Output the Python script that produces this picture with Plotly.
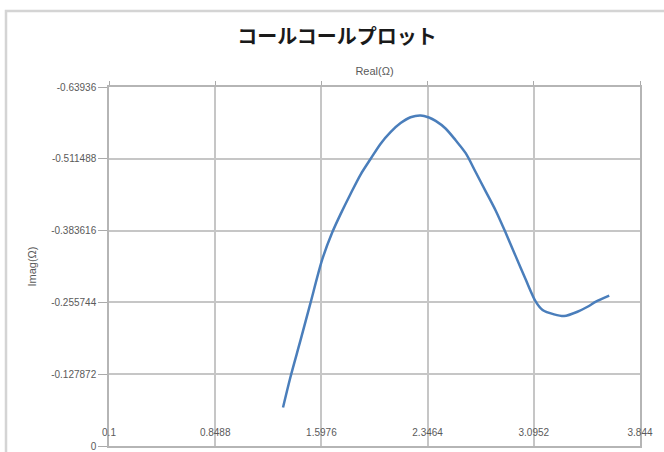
import plotly.graph_objects as go

# Data (Cole-Cole plot)
real = [1.327, 1.379, 1.450, 1.520, 1.603, 1.673, 1.732, 1.802, 1.873, 1.944,
        2.014, 2.085, 2.156, 2.226, 2.297, 2.356, 2.403, 2.473, 2.544, 2.615,
        2.685, 2.756, 2.827, 2.897, 2.968, 3.039, 3.109, 3.157, 3.238, 3.309,
        3.403, 3.474, 3.533, 3.627]
imag = [-0.0687, -0.1225, -0.188, -0.254, -0.3318, -0.3797, -0.4125, -0.4484, -0.4830, -0.5111,
        -0.5380, -0.5590, -0.5751, -0.5855, -0.5888, -0.5850, -0.5790, -0.5655, -0.5445, -0.5215,
        -0.4880, -0.4535, -0.4190, -0.3797, -0.3377, -0.2959, -0.2570, -0.2421, -0.2344, -0.2314,
        -0.2391, -0.2480, -0.2570, -0.2678]

x_ticks = [0.1, 0.8488, 1.5976, 2.3464, 3.0952, 3.844]
x_tick_text = ["0.1", "0.8488", "1.5976", "2.3464", "3.0952", "3.844"]
y_ticks = [-0.63936, -0.511488, -0.383616, -0.255744, -0.127872, 0]
y_tick_text = ["-0.63936", "-0.511488", "-0.383616", "-0.255744", "-0.127872", "0"]

title_text = "コールコールプロット"
x_title = "Real(Ω)"
y_title = "Imag(Ω)"

W, H = 664, 452
L, R, T, B = 109, 24, 87, 6
pw, ph = W - L - R, H - T - B

tick_font = dict(family="Liberation Sans, Arial, sans-serif", size=10, color="#5a5a5a")
axis_title_font = dict(family="Liberation Sans, Arial, sans-serif", size=11, color="#5a5a5a")
grid_col = "#c6c6c6"

fig = go.Figure()
fig.add_trace(go.Scatter(
    x=real, y=imag, mode="lines",
    line=dict(color="#4a7ebb", width=2.5, shape="spline", smoothing=0.8),
    showlegend=False, hoverinfo="skip",
))
# invisible trace on secondary x axis so its tick labels render
fig.add_trace(go.Scatter(x=[real[0]], y=[imag[0]], xaxis="x2", mode="markers",
                         marker=dict(opacity=0), showlegend=False, hoverinfo="skip"))

fig.update_layout(
    width=W, height=H,
    margin=dict(l=L, r=R, t=T, b=B, autoexpand=False),
    paper_bgcolor="white", plot_bgcolor="white",
    title=dict(text=f"<b>{title_text}</b>", x=337 / W, xanchor="center",
               y=1 - 37 / H, yanchor="middle",
               font=dict(family="Noto Sans CJK JP", size=20, color="#1a1a1a")),
    xaxis=dict(
        range=[x_ticks[0], x_ticks[-1]], side="top", automargin=False,
        tickvals=x_ticks, showticklabels=False,
        ticks="outside", ticklen=4, tickcolor="#aaaaaa",
        showgrid=True, gridcolor=grid_col, gridwidth=1.5,
        showline=True, linecolor="#b5b5b5", linewidth=2, mirror=True,
        zeroline=False,
        title=dict(text=x_title, standoff=3, font=axis_title_font),
    ),
    xaxis2=dict(
        overlaying="x", matches="x", anchor="free", position=0.058, side="bottom",
        automargin=False,
        tickvals=x_ticks, ticktext=x_tick_text, tickfont=tick_font,
        showgrid=False, showline=False, zeroline=False, ticks="",
    ),
    yaxis=dict(
        range=[0, y_ticks[0]], automargin=False,
        tickvals=y_ticks, ticktext=y_tick_text, tickfont=tick_font,
        ticks="outside", ticklen=9, tickcolor="#aaaaaa",
        showgrid=True, gridcolor=grid_col, gridwidth=1.5,
        showline=True, linecolor="#b5b5b5", linewidth=1.5, mirror=True,
        zeroline=False,
        title=dict(text=y_title, standoff=12, font=axis_title_font),
    ),
    shapes=[dict(
        type="rect", xref="paper", yref="paper",
        x0=(6 - L) / pw, x1=(W + 10 - L) / pw,
        y0=-(B + 10) / ph, y1=1 + (T - 11) / ph,
        line=dict(color="#d4d4d4", width=2.5), fillcolor="rgba(0,0,0,0)", layer="below",
    )],
)

fig.write_html("out.html", config={"displayModeBar": False},
               post_script="document.body.style.margin='0';document.body.style.overflow='hidden';")
